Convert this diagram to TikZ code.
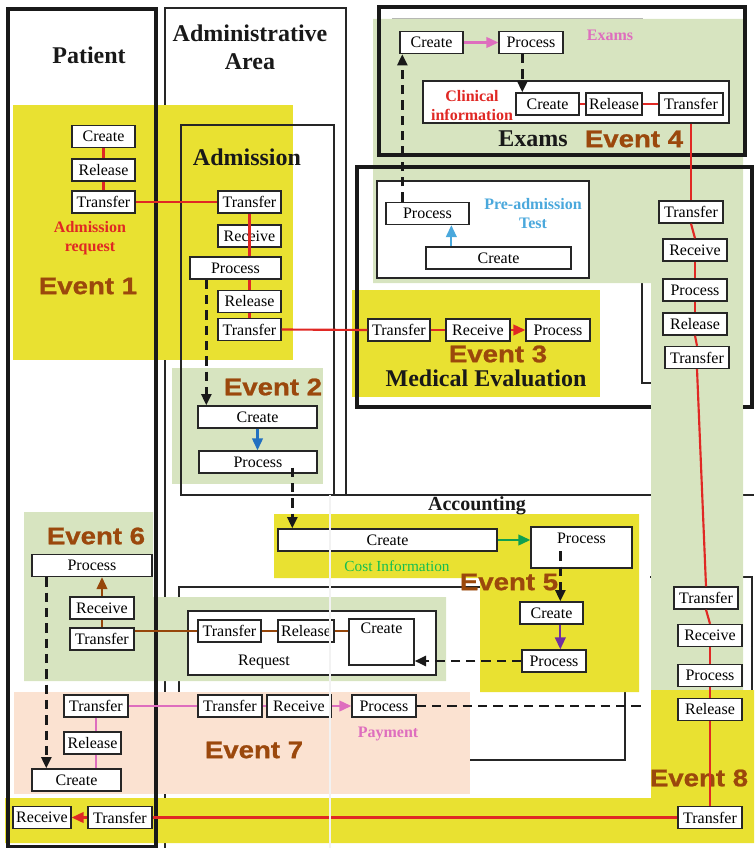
\documentclass[tikz,border=0pt]{standalone}
\usepackage{fontspec}
\setmainfont{Liberation Serif}
\newfontfamily\evfont[FakeStretch=1.15,FakeBold=1]{Liberation Sans}
\usetikzlibrary{arrows.meta,calc}

\definecolor{evyellow}{RGB}{233,225,49}
\definecolor{evgreen}{RGB}{215,228,192}
\definecolor{evpeach}{RGB}{251,226,209}
\definecolor{evbrown}{RGB}{155,72,12}
\definecolor{flowred}{RGB}{224,40,36}
\definecolor{flowpink}{RGB}{222,110,190}
\definecolor{flowbrown}{RGB}{150,70,10}
\definecolor{preblue}{RGB}{74,168,220}
\definecolor{flowblue}{RGB}{34,112,192}
\definecolor{costgreen}{RGB}{20,190,80}
\definecolor{flowgreen}{RGB}{16,160,80}
\definecolor{flowpurple}{RGB}{112,48,160}

\tikzset{
  box/.style={draw=black!85, fill=white, line width=1pt, inner sep=0pt,
    minimum height=16.5pt, font=\fontsize{12}{14}\selectfont},
  bw/.style={minimum width=#1*0.75pt},
  bh/.style={minimum height=#1*0.75pt},
  lbl/.style={anchor=north, inner sep=4.5pt, font=\fontsize{12}{14}\selectfont},
  lane/.style={draw=black!90, line width=3pt},
  frame/.style={draw=black!85, line width=1pt},
  title/.style={font=\fontsize{18}{21}\selectfont\bfseries, text=black!90},
  evlabel/.style={font=\evfont\fontsize{18}{20}\selectfont\bfseries, text=evbrown},
  tag/.style={font=\fontsize{12}{14.25}\selectfont\bfseries, align=center},
  link/.style={line width=1.6pt},
  arr/.style={-{Triangle[width=8pt,length=9pt]}},
  dashflow/.style={line width=2pt, black!90, dash pattern=on 7pt off 4.5pt,
    -{Triangle[width=7.5pt,length=8.5pt]}},
}

\begin{document}
\begin{tikzpicture}[x=0.75pt, y=-0.75pt]
\useasboundingbox (0,0) rectangle (754,848);

% thin outlines lying under the event areas
\draw[frame] (165,848) -- (165,8) -- (346,8) -- (346,495);
\draw[frame] (330,495) -- (754,495);
\draw[frame] (179,587) rectangle (625,760);
\draw[frame] (642,270) -- (642,383) -- (660,383);
\draw[frame] (650,577) -- (752,577) -- (752,700);
\draw[gray!60, line width=0.6pt] (392,18) -- (643,18);

% event areas
\fill[evyellow] (13,105) rectangle (293,360);                               % event 1
\fill[evgreen] (172,368) rectangle (323,484);                                % event 2
\fill[evyellow] (352,290) rectangle (600,397);                               % event 3
\fill[evgreen] (373,19) rectangle (743,283) (651,19) rectangle (743,690);    % event 4
\fill[evyellow] (274,514) rectangle (639,578) (480,514) rectangle (639,692); % event 5
\fill[evgreen] (24,512) rectangle (153,681) (153,597) rectangle (446,681);   % event 6
\fill[evpeach] (14,692) rectangle (470,794);                                 % event 7
\fill[evyellow] (651,690) rectangle (754,843) (5,798) rectangle (754,843);   % event 8

% lanes and areas
\draw[lane] (8,9) rectangle (156,847);
\draw[frame] (181,125) rectangle (334,495);
\draw[lane] (379,7) rectangle (745,155);
\draw[lane] (651,407) -- (357,407) -- (357,167) -- (752,167) -- (752,407) -- (743,407);

\node[box, bw=306, bh=42] (clin) at (576,102) {};
\node[box, bw=212, bh=97] (pre) at (483,229.5) {};
\node[box, bw=248, bh=64] (req) at (312,643) {};

% titles
\node[title] (patient) at (89,55) {Patient};
\node[title, align=center] (admin) at (250,47) {Administrative\\Area};
\node[title] (admission) at (247,157) {Admission};
\node[title] (exams) at (533,139) {Exams};
\node[title] (medeval) at (486,378) {Medical Evaluation};
\node[title, font=\fontsize{15}{17}\selectfont\bfseries] (accounting) at (477,506) {Accounting};

\node[evlabel] (ev1) at (88,286) {Event 1};
\node[evlabel] (ev2) at (273,387) {Event 2};
\node[evlabel] (ev3) at (498,354) {Event 3};
\node[evlabel] (ev4) at (634,139) {Event 4};
\node[evlabel] (ev5) at (509,582) {Event 5};
\node[evlabel] (ev6) at (96,536) {Event 6};
\node[evlabel] (ev7) at (254,750) {Event 7};
\node[evlabel] (ev8) at (699,778) {Event 8};

\node[tag, text=flowred] (admreq) at (90,238) {Admission\\request};
\node[tag, text=flowred] (clintag) at (472,106) {Clinical\\information};
\node[tag, text=preblue] (pretag) at (533,214) {Pre-admission\\Test};
\node[tag, text=flowpink] (examtag) at (610,35) {Exams};
\node[tag, text=flowpink] (paytag) at (388,734) {Payment};
\node[font=\fontsize{11.5}{13}\selectfont, text=costgreen] (costtag) at (397,566) {Cost Information};
\node[font=\fontsize{12}{14}\selectfont] (reqtag) at (264,662) {Request};

% event 1
\node[box, bw=63] (p1cr) at (103.5,136.5) {Create};
\node[box, bw=63] (p1rl) at (103.5,170) {Release};
\node[box, bw=63] (p1tr) at (103.5,202) {Transfer};
\node[box, bw=63] (atr1) at (249.5,202) {Transfer};
\node[box, bw=63] (arc) at (249.5,236) {Receive};
\node[box, bw=91] (apr) at (235.5,268) {Process};
\node[box, bw=63] (arl) at (249.5,301.5) {Release};
\node[box, bw=63] (atr2) at (249.5,329.5) {Transfer};

% event 2
\node[box, bw=119] (e2cr) at (257.5,417) {Create};
\node[box, bw=118] (e2pr) at (258,462) {Process};

% event 3
\node[box, bw=62] (e3tr) at (399,330) {Transfer};
\node[box, bw=64] (e3rc) at (478,330) {Receive};
\node[box, bw=64] (e3pr) at (558,330) {Process};

% pre-admission test
\node[box, bw=83] (ppr) at (427.5,213.5) {Process};
\node[box, bw=145] (pcr) at (498.5,258) {Create};

% event 4
\node[box, bw=63] (xcr) at (431.5,42.5) {Create};
\node[box, bw=64] (xpr) at (531,42.5) {Process};
\node[box, bw=63] (ccr) at (547.5,104) {Create};
\node[box, bw=56] (crl) at (614,104) {Release};
\node[box, bw=64] (ctr) at (691,104) {Transfer};
\node[box, bw=64] (t1) at (691,212) {Transfer};
\node[box, bw=64] (r1) at (695,250) {Receive};
\node[box, bw=64] (p1) at (695,290) {Process};
\node[box, bw=64] (l1) at (695,324) {Release};
\node[box, bw=64] (t2) at (697,357.5) {Transfer};
\node[box, bw=64] (t3) at (706,598) {Transfer};
\node[box, bw=64] (r2) at (710,635.5) {Receive};
\node[box, bw=64] (p2) at (710,675.5) {Process};
\node[box, bw=64] (l2) at (710,709.5) {Release};

% event 5
\node[box, bw=219] (cc) at (387.5,540) {Create};
\node[box, bw=101, bh=41, label={[lbl]north:Process}] (cp) at (581.5,547.5) {};
\node[box, bw=63] (e5cr) at (551.5,613) {Create};
\node[box, bw=64] (e5pr) at (554,661) {Process};

% event 6
\node[box, bw=120] (p6pr) at (92,565.5) {Process};
\node[box, bw=64] (p6rc) at (102,608) {Receive};
\node[box, bw=64] (p6tr) at (102,639) {Transfer};
\node[box, bw=63] (qtr) at (229.5,631) {Transfer};
\node[box, bw=56] (qrl) at (306,631) {Release};
\node[box, bw=65, bh=46, label={[lbl, inner sep=3.5pt]north:Create}] (rcr) at (381.5,642) {};

% event 7
\node[box, bw=64] (p7tr) at (96,706) {Transfer};
\node[box, bw=57] (p7rl) at (92.5,743) {Release};
\node[box, bw=89] (p7cr) at (76.5,780) {Create};
\node[box, bw=64] (ytr) at (230,706) {Transfer};
\node[box, bw=64] (yrc) at (299,706) {Receive};
\node[box, bw=64] (ypr) at (384,706) {Process};

% event 8
\node[box, bw=64] (t4) at (710,817.5) {Transfer};
\node[box, bw=64] (pbt) at (120,817.5) {Transfer};
\node[box, bw=58] (prc) at (42,817.5) {Receive};

% points on the flows
\coordinate (ad) at ($(apr.south west)+(17,0)$);
\coordinate (bd) at ($(e2pr.south west)+(94,-6)$);
\coordinate (xd) at ($(xpr.south west)+(24,0)$);
\coordinate (pd) at ($(ppr.north west)+(17,0)$);
\coordinate (pa) at ($(pcr.north west)+(26,0)$);
\coordinate (cd) at ($(cp.north west)+(30,25)$);
\coordinate (qd) at ($(p6pr.south west)+(15,0)$);
\coordinate (payend) at (643,706);

% admission request
\draw[link, flowred] (p1cr.south) -- (p1rl.north);
\draw[link, flowred] (p1rl.south) -- (p1tr.north);
\draw[link, flowred] (p1tr.east) -- (atr1.west);
\draw[link, flowred] (atr1.south) -- (atr1.south |- apr.north);
\draw[link, flowred] (atr1.south |- apr.south) -- (arl.north);
\draw[link, flowred] (arl.south) -- (atr2.north);
\draw[dashflow] (ad) -- (ad |- e2cr.north);
\draw[link, flowblue, arr] (e2cr.south) -- (e2cr.south |- e2pr.north);
\draw[dashflow] (bd) -- (bd |- cc.north);

% medical evaluation
\draw[link, flowred] (atr2.east) -- (e3tr.west);
\draw[link, flowred] (e3tr.east) -- (e3rc.west);
\draw[link, flowred, arr] (e3rc.east) -- (e3pr.west);
\draw[link, preblue, arr] (pa) -- (pa |- ppr.south);
\draw[dashflow] (pd) -- (pd |- xcr.south);

% exams
\draw[link, flowpink, arr] (xcr.east) -- (xpr.west);
\draw[dashflow] (xd) -- (xd |- ccr.north);
\draw[link, flowred] (ccr.east) -- (crl.west);
\draw[link, flowred] (crl.east) -- (ctr.west);
\draw[link, flowred] (ctr.south |- clin.south) -- (t1.north);
\draw[link, flowred] (t1.south) -- (r1.north);
\draw[link, flowred] (r1.south) -- (p1.north);
\draw[link, flowred] (p1.south) -- (l1.north);
\draw[link, flowred] (l1.south) -- (t2.north);
\draw[link, flowred] (t2.south) -- (t3.north);
\draw[link, flowred] (t3.south) -- (r2.north);
\draw[link, flowred] (r2.south) -- (p2.north);
\draw[link, flowred] (p2.south) -- (l2.north);
\draw[link, flowred] (l2.south) -- (t4.north);
\draw[link, flowred] (t4.west) -- (pbt.east);
\draw[link, flowred, arr] (pbt.west) -- (prc.east);

% cost information
\draw[link, flowgreen, arr] (cc.east) -- (cc.east -| cp.west);
\draw[dashflow] (cd) -- (cd |- e5cr.north);
\draw[link, flowpurple, arr] (cd |- e5cr.south) -- (cd |- e5pr.north);
\draw[dashflow] (e5pr.west) -- (e5pr.west -| rcr.east);

% request
\draw[link, flowbrown] (qtr.west -| p6tr.east) -- (qtr.west);
\draw[link, flowbrown] (qtr.east) -- (qrl.west);
\draw[link, flowbrown] (qrl.east) -- (qrl.east -| rcr.west);
\draw[link, flowbrown] (p6tr.north) -- (p6rc.south);
\draw[link, flowbrown, arr] (p6rc.north) -- (p6rc.north |- p6pr.south);
\draw[dashflow] (qd) -- (qd |- p7cr.north);

% payment
\draw[link, flowpink] (p7tr.south) -- (p7tr.south |- p7rl.north);
\draw[link, flowpink] (p7tr.south |- p7rl.south) -- (p7tr.south |- p7cr.north);
\draw[link, flowpink] (p7tr.east) -- (ytr.west);
\draw[link, flowpink] (ytr.east) -- (yrc.west);
\draw[link, flowpink, arr] (yrc.east) -- (ypr.west);
\draw[dashflow, -] (ypr.east) -- (payend);

% left edge of the accounting area
\draw[white!90!gray, line width=1.2pt] (330,495) -- (330,848);
\end{tikzpicture}
\end{document}
